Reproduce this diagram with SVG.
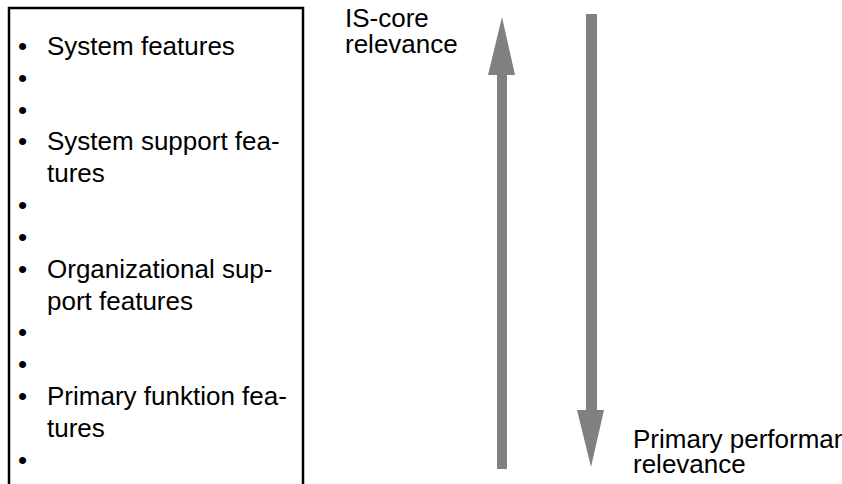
<svg xmlns="http://www.w3.org/2000/svg" width="842" height="484" viewBox="0 0 842 484">
<style>
text{font-family:"Liberation Sans",Arial,sans-serif;font-size:26px;fill:#000}
</style>
<rect width="842" height="484" fill="#fff"/>
<g id="feature-list">
<path d="M9,490 V8 H303 V490" fill="none" stroke="#000" stroke-width="2.5"/>
<text x="18" y="55">•</text><text x="47" y="55">System features</text>
<text x="18" y="87">•</text>
<text x="18" y="119">•</text>
<text x="18" y="150">•</text><text x="47" y="150">System support fea-</text>
<text x="47" y="182">tures</text>
<text x="18" y="214">•</text>
<text x="18" y="246">•</text>
<text x="18" y="278">•</text><text x="47" y="278">Organizational sup-</text>
<text x="47" y="310">port features</text>
<text x="18" y="341">•</text>
<text x="18" y="373">•</text>
<text x="18" y="405">•</text><text x="47" y="405">Primary funktion fea-</text>
<text x="47" y="437">tures</text>
<text x="18" y="469">•</text>
</g>
<g id="label-is-core">
<text x="345" y="27">IS-core</text>
<text x="345" y="53">relevance</text>
</g>
<g id="label-primary">
<text x="633" y="448">Primary performance</text>
<text x="633" y="473">relevance</text>
</g>
<g id="connectors" fill="#808080">
<polygon points="497,469 507,469 507,75 515,75 502,17 488,75 497,75"/>
<polygon points="586,14 597,14 597,410 604,410 591,467 577,410 586,410"/>
</g>
</svg>
